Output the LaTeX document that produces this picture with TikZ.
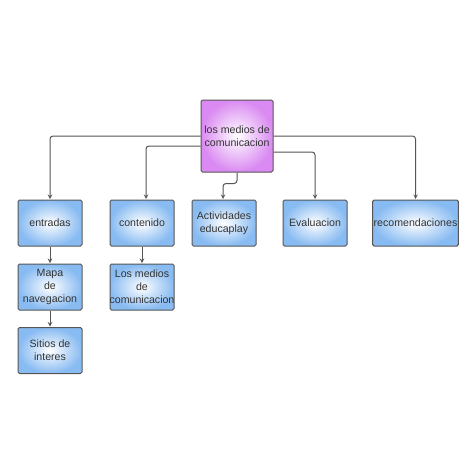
\documentclass[tikz,border=0pt]{standalone}
\usepackage{fontspec}
\setmainfont{Liberation Sans}
\usepackage{xcolor}
\usepackage{tikz}
\usetikzlibrary{calc, positioning}

\definecolor{vien}{HTML}{555555}
\definecolor{chu}{HTML}{333333}
\definecolor{tim}{HTML}{DA8AF2}
\definecolor{xanh}{HTML}{88BBF2}

\begin{document}
\begin{tikzpicture}[>=stealth, x=1pt, y=-1pt,
    hop/.style={draw=vien, line width=1pt, rounded corners=1.5pt, shading=radial,
        inner color=white, outer color=xanh, text=chu, align=center,
        font=\fontsize{10.6}{12.8}\selectfont, minimum width=64pt, minimum height=46pt, inner sep=1pt},
    goc/.style={hop, outer color=tim, minimum width=72pt, minimum height=72pt},
    noi/.style={draw=vien, line width=1pt, rounded corners=3pt, ->, shorten >=0.5pt}]
    % Khung nền cố định kích thước hình
    \fill[white] (0,0) rectangle (474,474);
    \useasboundingbox (0,0) rectangle (474,474);

    % Nút gốc
    \node[goc] (goc) at (237,136) {los medios de\\comunicacion};

    % Hàng thứ nhất
    \node[hop] (entradas) at (50,223) {entradas};
    \node[hop] (contenido) at (142,223) {contenido};
    \node[hop] (actividades) at (224,223) {Actividades\\educaplay};
    \node[hop] (evaluacion) at (315,223) {Evaluacion};
    \node[hop, minimum width=83pt] (recomendaciones) at (415.5,223) {recomendaciones};

    % Các hàng dưới
    \node[hop] (mapa) at (50,287) {Mapa\\de\\navegacion};
    \node[hop, inner xsep=-0.5pt] (losmedios) at (142,287) {Los medios\\de\\comunicacion};
    \node[hop] (sitios) at (50,350.5) {Sitios de\\interes};

    % Các mũi tên nối
    \draw[noi] (goc.west) -| (entradas.north);
    \draw[noi] ([yshift=-10pt]goc.west) -| ([xshift=4pt]contenido.north);
    \draw[noi] (goc.south) -- ++(0,11) -| ([xshift=-1pt]actividades.north);
    \draw[noi] ([yshift=-16pt]goc.east) -| (evaluacion.north);
    \draw[noi] (goc.east) -| (recomendaciones.north);
    \draw[noi] (entradas) -- (mapa);
    \draw[noi] (contenido) -- (losmedios);
    \draw[noi] (mapa) -- (sitios);
\end{tikzpicture}
\end{document}
